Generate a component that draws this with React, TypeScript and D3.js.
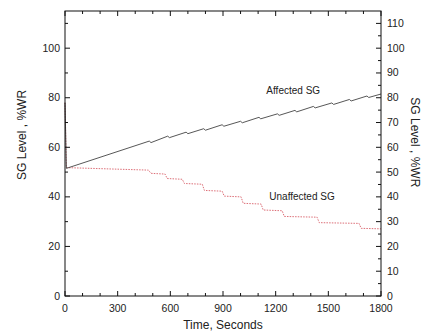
import React from 'react'
import * as d3 from 'd3'

// time (s) and level (%WR)
const affectedT = [0, 8, 480, 490, 585, 595, 690, 700, 790, 800, 895, 905, 1000, 1010, 1105, 1115, 1210, 1220, 1310, 1320, 1415, 1425, 1520, 1530, 1620, 1630, 1720, 1730, 1800]
const affectedV = [78, 51.5, 62.5, 61.9, 64.5, 63.9, 66.1, 65.5, 67.5, 66.9, 69.1, 68.5, 70.5, 69.9, 72.1, 71.5, 73.5, 72.9, 74.9, 74.3, 76.5, 75.9, 77.9, 77.3, 79.3, 78.7, 80.7, 80.1, 81.5]

const unaffectedT = [0, 8, 475, 490, 570, 582, 668, 680, 782, 794, 895, 907, 1003, 1015, 1117, 1129, 1237, 1249, 1436, 1448, 1675, 1687, 1800]
const unaffectedV = [78, 51.8, 50.8, 49.5, 49.2, 47.4, 47.1, 45.4, 45.1, 42.6, 42.3, 40.3, 40.0, 37.4, 37.1, 34.7, 34.4, 32.1, 31.8, 29.6, 29.3, 27.3, 27.1]

const xMajor = [0, 300, 600, 900, 1200, 1500, 1800]
const leftMajor = [0, 20, 40, 60, 80, 100]
const rightMajor = [0, 10, 20, 30, 40, 50, 60, 70, 80, 90, 100, 110]

const W = 430
const H = 333
const L = 65
const R = 381
const T = 11
const B = 296
const font = 'Liberation Sans, Arial, sans-serif'

export default function App() {
  const x = d3.scaleLinear().domain([0, 1800]).range([L, R])
  const y = d3.scaleLinear().domain([0, 115]).range([B, T])

  const affected = affectedT.map((t, i) => [t, affectedV[i]] as [number, number])
  const unaffected = unaffectedT.map((t, i) => [t, unaffectedV[i]] as [number, number])
  const line = d3
    .line<[number, number]>()
    .x(d => x(d[0]))
    .y(d => y(d[1]))

  const xMinor = d3.range(0, 1801, 100).filter(v => v % 300 !== 0)
  const leftMinor = d3.range(10, 115, 20)
  const rightMinor = d3.range(5, 115, 10)

  return (
    <svg width={W} height={H} style={{position: 'absolute', left: 0, top: 0}} fontFamily={font}>
      <rect width={W} height={H} fill="#fff" />
      <path d={line(unaffected) || ''} fill="none" stroke="#dd6f78" strokeWidth={1} strokeDasharray="1.5,1.2" />
      <path d={line(affected) || ''} fill="none" stroke="#444" strokeWidth={0.9} />
      <rect x={L} y={T} width={R - L} height={B - T} fill="none" stroke="#111" strokeWidth={1} />

      {xMajor.map(v => (
        <g key={'xm' + v}>
          <line x1={x(v)} x2={x(v)} y1={B} y2={B - 5} stroke="#111" />
          <line x1={x(v)} x2={x(v)} y1={T} y2={T + 5} stroke="#111" />
          <text x={x(v)} y={B + 16} fontSize={10.5} textAnchor="middle" fill="#222">{v}</text>
        </g>
      ))}
      {xMinor.map(v => (
        <g key={'xn' + v}>
          <line x1={x(v)} x2={x(v)} y1={B} y2={B - 3} stroke="#111" />
          <line x1={x(v)} x2={x(v)} y1={T} y2={T + 3} stroke="#111" />
        </g>
      ))}

      {leftMajor.map(v => (
        <g key={'lm' + v}>
          <line x1={L} x2={L + 5} y1={y(v)} y2={y(v)} stroke="#111" />
          <text x={L - 5} y={y(v) + 3.5} fontSize={10.5} textAnchor="end" fill="#222">{v}</text>
        </g>
      ))}
      {leftMinor.map(v => (
        <line key={'ln' + v} x1={L} x2={L + 3} y1={y(v)} y2={y(v)} stroke="#111" />
      ))}

      {rightMajor.map(v => (
        <g key={'rm' + v}>
          <line x1={R} x2={R - 5} y1={y(v)} y2={y(v)} stroke="#111" />
          <text x={R + 6} y={y(v) + 3.5} fontSize={10.5} textAnchor="start" fill="#222">{v}</text>
        </g>
      ))}
      {rightMinor.map(v => (
        <line key={'rn' + v} x1={R} x2={R - 3} y1={y(v)} y2={y(v)} stroke="#111" />
      ))}

      <text x={(L + R) / 2} y={329} fontSize={12} textAnchor="middle" fill="#222">Time, Seconds</text>
      <text transform={`translate(26, ${y(65)}) rotate(-90)`} fontSize={12} textAnchor="middle" fill="#222">SG Level , %WR</text>
      <text transform={`translate(411, ${y(62)}) rotate(90)`} fontSize={12} textAnchor="middle" fill="#222">SG Level , %WR</text>

      <text x={x(1300)} y={y(81.5)} fontSize={10} textAnchor="middle" fill="#222">Affected SG</text>
      <text x={x(1350)} y={y(38.7)} fontSize={10} textAnchor="middle" fill="#222">Unaffected SG</text>
    </svg>
  )
}
